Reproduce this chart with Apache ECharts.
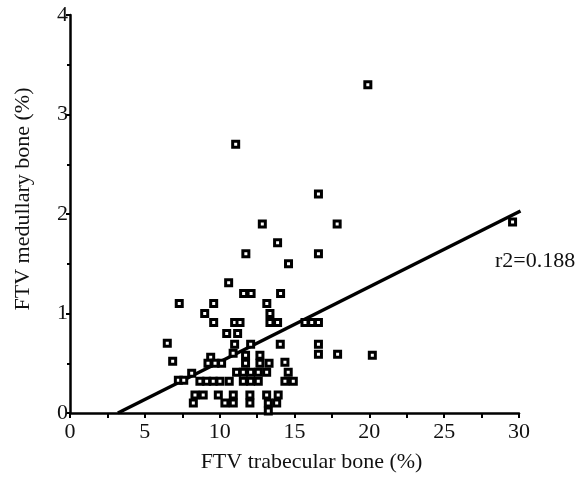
<!DOCTYPE html>
<html><head><meta charset="utf-8">
<script src="https://cdn.jsdelivr.net/npm/echarts@6/dist/echarts.min.js"></script>
<style>html,body{margin:0;padding:0;background:#fff}#c{width:579px;height:481px}</style>
</head><body><div id="c"></div>
<script>
var xTitle = 'FTV trabecular bone (%)';
var yTitle = 'FTV medullary bone (%)';
var xTicks = [0, 5, 10, 15, 20, 25, 30];
var yTicks = [0, 1, 2, 3, 4];
var trabecular = [19.9,11.07,16.6,12.85,17.85,13.87,11.75,16.6,14.6,10.6,11.6,12.1,14.07,7.3,9.6,13.15,9.0,13.36,9.6,11.0,11.36,13.36,13.87,15.7,16.15,16.6,10.47,11.2,6.5,11.0,12.07,14.05,16.6,16.6,17.88,20.2,6.86,9.4,9.22,9.69,10.13,11.73,11.73,12.69,12.69,13.3,14.36,10.9,8.13,11.13,11.58,12.07,12.58,13.14,14.58,7.24,7.6,8.68,9.13,9.57,10.02,10.64,11.58,12.07,12.58,14.36,14.92,8.35,8.9,9.91,10.91,12.02,13.14,13.91,8.24,10.35,10.91,12.02,13.25,13.81,13.25,29.57];
var medullary = [3.3,2.7,2.2,1.9,1.9,1.71,1.6,1.6,1.5,1.31,1.2,1.2,1.2,1.1,1.1,1.1,1.0,1.0,0.91,0.91,0.91,0.91,0.91,0.91,0.91,0.91,0.8,0.8,0.7,0.69,0.69,0.69,0.69,0.59,0.59,0.58,0.52,0.56,0.5,0.5,0.5,0.58,0.5,0.58,0.5,0.5,0.51,0.6,0.4,0.41,0.41,0.41,0.41,0.41,0.41,0.33,0.33,0.32,0.32,0.32,0.32,0.32,0.32,0.32,0.32,0.32,0.32,0.18,0.18,0.18,0.18,0.18,0.18,0.18,0.1,0.1,0.1,0.1,0.1,0.1,0.02,1.92];
var fitX = [3.2, 30.1];
var fitY = [0, 2.03];
var r2Label = 'r2=0.188';

var pts = trabecular.map(function (x, i) { return [x, medullary[i]]; });
var fit = fitX.map(function (x, i) { return [x, fitY[i]]; });
var font = 'Liberation Serif';
var chart = echarts.init(document.getElementById('c'));
chart.setOption({
  animation: false,
  backgroundColor: '#fff',
  grid: { left: 70, right: 60, top: 15, bottom: 68, containLabel: false },
  xAxis: {
    type: 'value', min: xTicks[0], max: xTicks[xTicks.length - 1], interval: 5,
    name: xTitle, nameLocation: 'middle', nameGap: 38,
    nameTextStyle: { fontFamily: font, fontSize: 22, color: '#111', padding: [0, 0, 0, 34] },
    axisLine: { show: true, lineStyle: { color: '#000', width: 2.5 } },
    axisTick: { show: true, inside: false, length: 5, lineStyle: { color: '#000', width: 2 } },
    minorTick: { show: true, splitNumber: 2, length: 5, lineStyle: { color: '#000', width: 2 } },
    axisLabel: { fontFamily: font, fontSize: 22, color: '#111', margin: 8 },
    splitLine: { show: false }
  },
  yAxis: {
    type: 'value', min: yTicks[0], max: yTicks[yTicks.length - 1], interval: 1,
    name: yTitle, nameLocation: 'middle', nameGap: 36, nameRotate: 90,
    nameTextStyle: { fontFamily: font, fontSize: 22, color: '#111', padding: [0, 0, 0, 30] },
    axisLine: { show: true, lineStyle: { color: '#000', width: 2.5 } },
    axisTick: { show: true, inside: false, length: 4, lineStyle: { color: '#000', width: 2 } },
    minorTick: { show: true, splitNumber: 2, length: 3, lineStyle: { color: '#000', width: 2 } },
    axisLabel: { fontFamily: font, fontSize: 22, color: '#111', margin: 2 },
    splitLine: { show: false }
  },
  graphic: [{
    type: 'text', left: 495, top: 250,
    style: { text: r2Label, font: '22px "Liberation Serif"', fill: '#111' }
  }],
  series: [
    { type: 'line', data: fit, symbol: 'none', lineStyle: { color: '#000', width: 3.5 }, z: 3 },
    { type: 'scatter', data: pts, symbol: 'rect', symbolSize: 6,
      itemStyle: { color: '#fff', borderColor: '#000', borderWidth: 3, opacity: 1 }, z: 4 }
  ]
});
</script></body></html>
